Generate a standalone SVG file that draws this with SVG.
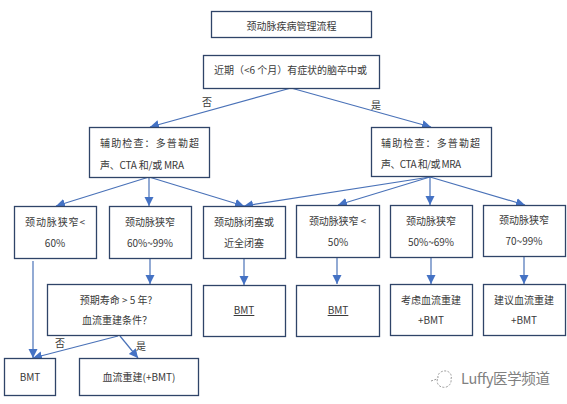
<svg xmlns="http://www.w3.org/2000/svg" width="567" height="404" viewBox="0 0 567 404">
<style>
.b{fill:#fff;stroke:#2f4468;stroke-width:1.3}
.t{font-family:"Noto Sans CJK SC","Noto Sans",sans-serif;font-size:10px;fill:#3a3a3a;text-anchor:middle}
.l{font-family:"Noto Sans CJK SC","Noto Sans",sans-serif;font-size:10px;fill:#3a3a3a}
.c{fill:none;stroke:#4a72b8;stroke-width:1.2;marker-end:url(#a)}
.u{text-decoration:underline}
</style>
<defs><marker id="a" markerUnits="userSpaceOnUse" markerWidth="10" markerHeight="10" refX="9" refY="4.5" orient="auto"><path d="M0 0L9 4.5L0 9Z" fill="#4472c4"/></marker></defs>
<rect width="567" height="404" fill="#fff"/>
<g id="connectors">
<path class="c" d="M291 88L150 127"/>
<path class="c" d="M291 88L431 127"/>
<path class="c" d="M149 177L56 206"/>
<path class="c" d="M149 177L149 206"/>
<path class="c" d="M149 177L244 206"/>
<path class="c" d="M430 177L244 206"/>
<path class="c" d="M430 177L338 205"/>
<path class="c" d="M430 177L430 205"/>
<path class="c" d="M430 177L525 205"/>
<path class="c" d="M33 261L33 358"/>
<path class="c" d="M150 258L150 284"/>
<path class="c" d="M244 258L244 285"/>
<path class="c" d="M337 257L337 284"/>
<path class="c" d="M431 257L431 284"/>
<path class="c" d="M524 256L524 284"/>
<path class="c" d="M118 336L33 358"/>
<path class="c" d="M120 336L138 358"/>
</g>
<g id="label-no-1"><text class="l" x="202" y="106">否</text></g>
<g id="label-yes-1"><text class="l" x="371" y="109">是</text></g>
<g id="label-no-2"><text class="l" x="55" y="347">否</text></g>
<g id="label-yes-2"><text class="l" x="136" y="350">是</text></g>
<g id="title"><rect class="b" x="211.5" y="11.5" width="160" height="26"/><text class="t" x="291.5" y="30">颈动脉疾病管理流程</text></g>
<g id="start"><rect class="b" x="203.5" y="55.5" width="176" height="33"/><text class="l" x="214" y="74" textLength="153">近期（&lt;6 个月）有症状的脑卒中或</text></g>
<g id="aux-left"><rect class="b" x="89.5" y="127.5" width="120" height="50"/><text class="l" x="100" y="147" textLength="99">辅助检查：多普勒超</text><text class="l" x="100" y="169" textLength="84">声、CTA 和/或 MRA</text></g>
<g id="aux-right"><rect class="b" x="371.5" y="127.5" width="120" height="49"/><text class="l" x="381" y="147" textLength="99">辅助检查：多普勒超</text><text class="l" x="381" y="168" textLength="80">声、CTA 和/或 MRA</text></g>
<g id="n1"><rect class="b" x="14.5" y="206.5" width="82" height="52"/><text class="l" x="25" y="226" textLength="60">颈动脉狭窄&lt;</text><text class="t" x="55" y="247">60%</text></g>
<g id="n2"><rect class="b" x="109.5" y="206.5" width="82" height="52"/><text class="t" x="150" y="226">颈动脉狭窄</text><text class="t" x="150" y="247">60%~99%</text></g>
<g id="n3"><rect class="b" x="203.5" y="206.5" width="82" height="52"/><text class="t" x="244" y="226">颈动脉闭塞或</text><text class="t" x="244" y="247">近全闭塞</text></g>
<g id="n4"><rect class="b" x="296.5" y="205.5" width="83" height="52"/><text class="l" x="309" y="225" textLength="57">颈动脉狭窄 &lt;</text><text class="t" x="338" y="246">50%</text></g>
<g id="n5"><rect class="b" x="390.5" y="205.5" width="82" height="52"/><text class="t" x="431" y="225">颈动脉狭窄</text><text class="t" x="431" y="246">50%~69%</text></g>
<g id="n6"><rect class="b" x="483.5" y="205.5" width="82" height="51"/><text class="t" x="524" y="224">颈动脉狭窄</text><text class="t" x="524" y="245">70~99%</text></g>
<g id="n7"><rect class="b" x="47.5" y="284.5" width="144" height="51"/><text class="t" x="116" y="304">预期寿命 &gt; 5 年?</text><text class="t" x="117" y="324">血流重建条件？</text></g>
<g id="n8"><rect class="b" x="203.5" y="285.5" width="82" height="51"/><text class="t u" x="244" y="314">BMT</text></g>
<g id="n9"><rect class="b" x="296.5" y="285.5" width="83" height="51"/><text class="t u" x="338" y="314">BMT</text></g>
<g id="n10"><rect class="b" x="390.5" y="284.5" width="82" height="51"/><text class="t" x="431" y="304">考虑血流重建</text><text class="t" x="431" y="324">+BMT</text></g>
<g id="n11"><rect class="b" x="483.5" y="284.5" width="82" height="51"/><text class="t" x="524" y="304">建议血流重建</text><text class="t" x="524" y="324">+BMT</text></g>
<g id="n12"><rect class="b" x="4.5" y="358.5" width="51" height="37"/><text class="t" x="30" y="381">BMT</text></g>
<g id="n13"><rect class="b" x="79.5" y="358.5" width="119" height="37"/><text class="t" x="139" y="381">血流重建(+BMT)</text></g>
<g id="watermark"><path d="M431 381l6-2M438 378a7 6 0 0 1 8-7a6 6 0 0 1 5 8a7 7 0 0 1-9 8a6 6 0 0 1-4-9" fill="none" stroke="#999" stroke-width="1" stroke-dasharray="2 1.5"/><text x="461" y="384" font-family="'Noto Sans CJK SC','Noto Sans',sans-serif" font-size="14.5px" fill="#808080" textLength="89">Luffy医学频道</text></g>
</svg>
